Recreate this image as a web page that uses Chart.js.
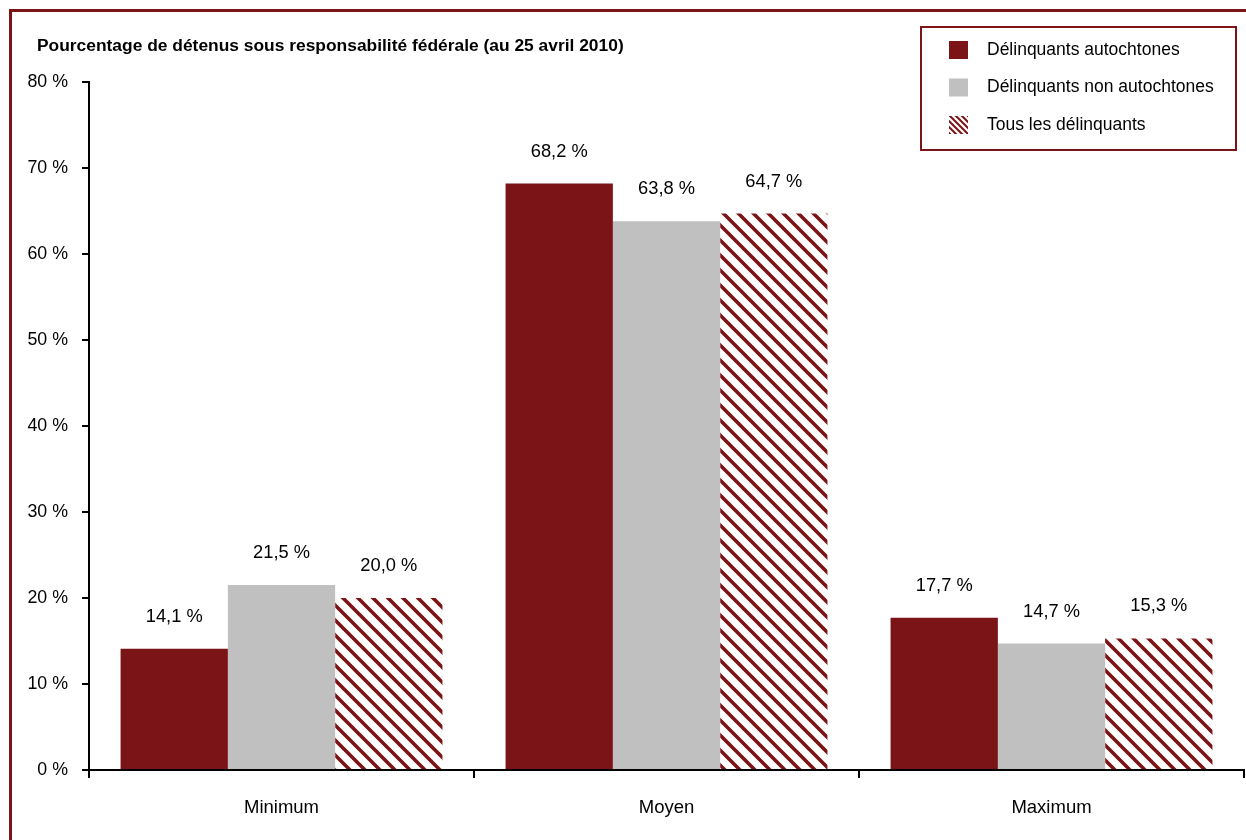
<!DOCTYPE html>
<html lang="fr">
<head>
<meta charset="utf-8">
<title>Pourcentage de détenus sous responsabilité fédérale</title>
<script src="https://cdn.jsdelivr.net/npm/chart.js@4.4.1/dist/chart.umd.min.js"></script>
<style>
  html, body { margin: 0; padding: 0; background: #ffffff; }
  canvas { display: block; }
</style>
</head>
<body>
<canvas id="chart" width="1246" height="840"></canvas>
<script>
// Niveaux de sécurité (catégories de l'axe horizontal)
const categories = ['Minimum', 'Moyen', 'Maximum'];

// Noms des séries
const seriesNames = ['Délinquants autochtones', 'Délinquants non autochtones', 'Tous les délinquants'];

// Pourcentages par série
const autochtones = [14.1, 68.2, 17.7];
const nonAutochtones = [21.5, 63.8, 14.7];
const tousDelinquants = [20.0, 64.7, 15.3];

// Graduations de l'axe vertical
const yTicks = [0, 10, 20, 30, 40, 50, 60, 70, 80];

const chartTitle = 'Pourcentage de détenus sous responsabilité fédérale (au 25 avril 2010)';

const RED = '#7b1416';
const GREY = '#c0c0c0';
const FONT = '"Liberation Sans", Arial, sans-serif';

// Motif hachuré (rayures diagonales rouges sur blanc)
function makeHatch(size, width) {
  const c = document.createElement('canvas');
  c.width = size; c.height = size;
  const g = c.getContext('2d');
  g.fillStyle = '#ffffff';
  g.fillRect(0, 0, size, size);
  g.strokeStyle = RED;
  g.lineWidth = width;
  g.beginPath();
  for (const o of [-size, 0, size]) {
    g.moveTo(o - 2, -2);
    g.lineTo(o + size + 2, size + 2);
  }
  g.stroke();
  return c;
}
const ctx0 = document.getElementById('chart').getContext('2d');
const hatch = ctx0.createPattern(makeHatch(15, 3.6), 'repeat');
const hatchSmall = ctx0.createPattern(makeHatch(6, 2), 'repeat');

const fmt = v => v.toFixed(1).replace('.', ',') + ' %';

// Cadre, titre, légende encadrée et étiquettes de valeurs
const decorations = {
  id: 'decorations',
  beforeDraw(chart) {
    const c = chart.ctx;
    c.save();
    c.fillStyle = '#ffffff';
    c.fillRect(0, 0, chart.width, chart.height);
    c.strokeStyle = RED;
    c.lineWidth = 3;
    c.beginPath();
    c.moveTo(10.5, chart.height + 5);
    c.lineTo(10.5, 10.5);
    c.lineTo(chart.width + 5, 10.5);
    c.stroke();
    c.fillStyle = '#000000';
    c.font = 'bold 17.4px ' + FONT;
    c.textBaseline = 'middle';
    c.textAlign = 'left';
    c.fillText(chartTitle, 37, 46);
    c.restore();
  },
  afterDatasetsDraw(chart) {
    const c = chart.ctx;
    c.save();
    // étiquettes de valeurs au-dessus des barres
    c.fillStyle = '#000000';
    c.font = '18.3px ' + FONT;
    c.textAlign = 'center';
    c.textBaseline = 'middle';
    chart.data.datasets.forEach((ds, i) => {
      chart.getDatasetMeta(i).data.forEach((bar, j) => {
        c.fillText(fmt(ds.data[j]), bar.x, bar.y - 32);
      });
    });
    // légende
    c.fillStyle = '#ffffff';
    c.fillRect(921, 27, 315, 123);
    c.strokeStyle = RED;
    c.lineWidth = 2;
    c.strokeRect(921, 27, 315, 123);
    const fills = [RED, GREY, hatchSmall];
    c.font = '17.5px ' + FONT;
    chart.data.datasets.forEach((ds, i) => {
      const cy = 50 + i * 37.5;
      c.fillStyle = fills[i];
      c.fillRect(949, cy - 9, 19, 18);
      c.fillStyle = '#000000';
      c.textAlign = 'left';
      c.fillText(ds.label, 987, cy);
    });
    c.restore();
  }
};

new Chart(ctx0, {
  type: 'bar',
  data: {
    labels: categories,
    datasets: [
      { label: seriesNames[0], data: autochtones, backgroundColor: RED },
      { label: seriesNames[1], data: nonAutochtones, backgroundColor: GREY },
      { label: seriesNames[2], data: tousDelinquants, backgroundColor: hatch }
    ]
  },
  options: {
    responsive: false,
    animation: false,
    devicePixelRatio: 1,
    datasets: { bar: { categoryPercentage: 0.836, barPercentage: 1.0, borderWidth: 0 } },
    layout: { padding: { left: 0, right: 2, top: 82, bottom: 0 } },
    plugins: { legend: { display: false }, tooltip: { enabled: false }, title: { display: false } },
    scales: {
      x: {
        grid: { display: true, drawOnChartArea: false, drawTicks: true, tickLength: 8, color: '#000000', lineWidth: 2, offset: true },
        border: { display: true, color: '#000000', width: 2 },
        ticks: { color: '#000000', font: { family: FONT, size: 18.5 }, padding: 19 },
        afterFit(s) { s.height = 70; }
      },
      y: {
        min: yTicks[0],
        max: yTicks[yTicks.length - 1],
        afterBuildTicks(s) { s.ticks = yTicks.map(v => ({ value: v })); },
        grid: { display: true, drawOnChartArea: false, drawTicks: true, tickLength: 7, color: '#000000', lineWidth: 2 },
        border: { display: true, color: '#000000', width: 2 },
        ticks: { color: '#000000', font: { family: FONT, size: 17.8 }, padding: 14, callback: v => v + ' %' },
        afterFit(s) { s.width = 89; }
      }
    }
  },
  plugins: [decorations]
});
</script>
</body>
</html>
